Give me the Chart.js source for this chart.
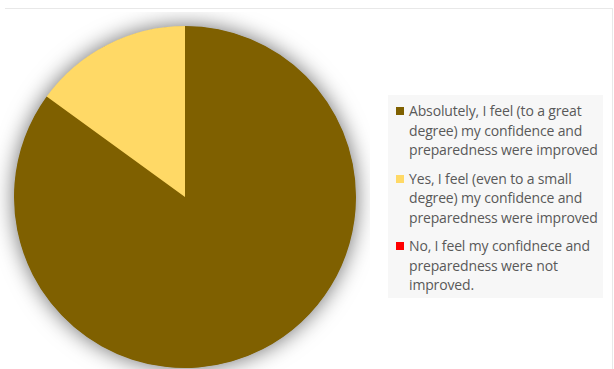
<!DOCTYPE html>
<html>
<head>
<meta charset="utf-8">
<script src="https://cdn.jsdelivr.net/npm/chart.js@4/dist/chart.umd.min.js"></script>
<style>
  html, body { margin: 0; padding: 0; background: #fff; }
  body { width: 614px; height: 369px; position: relative; overflow: hidden; }
  #frame { position: absolute; left: 5px; top: 8px; width: 607px; height: 380px;
           border-top: 1px solid #e8e8e8; border-right: 1px solid #e8e8e8; }
  #pieBox { position: absolute; left: 0px; top: 12px; width: 370px; height: 370px; }
  #legend { position: absolute; left: 388px; top: 95px; width: 215px; height: 203px;
            background: #f7f7f7; box-sizing: border-box; padding: 6px 2px 0 8px;
            font-family: "Open Sans", sans-serif; font-size: 14px; color: #595959; }
  .item { display: flex; align-items: flex-start; margin-bottom: 9px; }
  .swatch { width: 8px; height: 8px; flex: none; margin-top: 6px; margin-right: 5px; }
  .text { line-height: 19.5px; letter-spacing: -0.15px; white-space: nowrap; }
</style>
</head>
<body>
<div id="frame"></div>
<div id="pieBox"><canvas id="pie"></canvas></div>
<div id="legend"></div>
<script>
// Survey answers and their share of responses (%)
const categories = [
  "Absolutely, I feel (to a great degree) my confidence and preparedness were improved",
  "Yes, I feel (even to a small degree) my confidence and preparedness were improved",
  "No, I feel my confidnece and preparedness were not improved."
];
const shares = [85, 15, 0];
const sliceColors = ["#7f6000", "#ffd966", "#ff0000"];

// Soft drop shadow under the whole pie, drawn from the arc geometry
const pieShadow = {
  id: "pieShadow",
  beforeDatasetsDraw(chart) {
    const arc = chart.getDatasetMeta(0).data[0];
    if (!arc) return;
    const ctx = chart.ctx;
    ctx.save();
    ctx.shadowColor = "rgba(0,0,0,0.6)";
    ctx.shadowBlur = 22;
    ctx.fillStyle = "#7f6000";
    ctx.beginPath();
    ctx.arc(arc.x, arc.y, arc.outerRadius - 0.5, 0, Math.PI * 2);
    ctx.fill();
    ctx.restore();
  }
};

new Chart(document.getElementById("pie"), {
  type: "pie",
  data: {
    labels: categories,
    datasets: [{
      data: shares,
      backgroundColor: sliceColors,
      borderWidth: 0
    }]
  },
  options: {
    responsive: true,
    maintainAspectRatio: false,
    animation: false,
    layout: { padding: 14 },
    plugins: {
      legend: { display: false },
      tooltip: { enabled: false }
    }
  },
  plugins: [pieShadow]
});

// Legend entries built from the same categories and colours
const legend = document.getElementById("legend");
const wrapped = [
  ["Absolutely, I feel (to a great", "degree) my confidence and", "preparedness were improved"],
  ["Yes, I feel (even to a small", "degree) my confidence and", "preparedness were improved"],
  ["No, I feel my confidnece and", "preparedness were not", "improved."]
];
categories.forEach((c, i) => {
  const item = document.createElement("div");
  item.className = "item";
  const sw = document.createElement("div");
  sw.className = "swatch";
  sw.style.background = sliceColors[i];
  const tx = document.createElement("div");
  tx.className = "text";
  tx.innerHTML = wrapped[i].join("<br>");
  item.appendChild(sw);
  item.appendChild(tx);
  legend.appendChild(item);
});
</script>
</body>
</html>
